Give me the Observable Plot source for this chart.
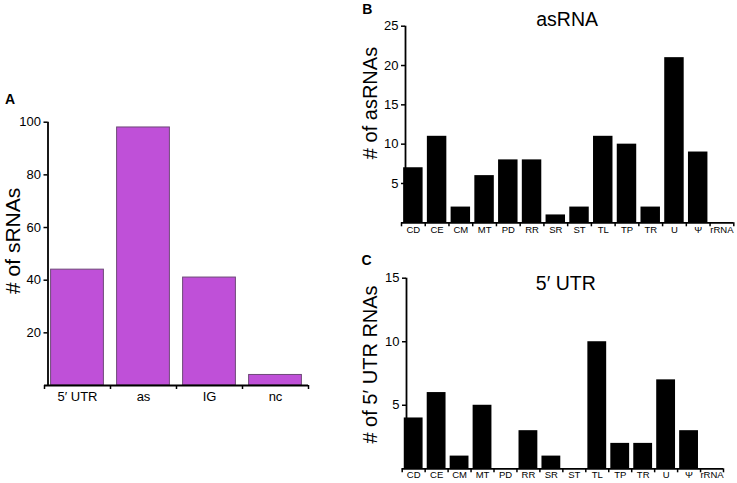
<!DOCTYPE html>
<html><head><meta charset="utf-8">
<script src="https://cdn.jsdelivr.net/npm/d3@7"></script>
<script src="https://cdn.jsdelivr.net/npm/@observablehq/plot@0.6"></script>
<style>
html,body{margin:0;padding:0;background:#fff;}
#wrap{position:relative;width:737px;height:483px;overflow:hidden;}
#wrap svg{position:absolute;overflow:visible;}
</style></head><body><div id="wrap"></div>
<script>
// ---- data ----
const srnaTypes = ["5′ UTR", "as", "IG", "nc"];
const srnaCounts = [44, 98, 41, 4];
const funcCategories = ["CD","CE","CM","MT","PD","RR","SR","ST","TL","TP","TR","U","Ψ","rRNA"];
const asRnaCounts = [7, 11, 2, 6, 8, 8, 1, 2, 11, 10, 2, 21, 9, 0];
const utrCounts   = [4, 6, 1, 5, 0, 3, 1, 0, 10, 2, 2, 7, 3, 0];
const yTicksA = [20, 40, 60, 80, 100];
const yTicksB = [5, 10, 15, 20, 25];
const yTicksC = [5, 10, 15];

const FONT = '"Liberation Sans", Arial, Helvetica, sans-serif';
const wrap = document.getElementById("wrap");

function makePanel(o) {
  const n = o.cats.length;
  const idx = d3.range(n);
  const marks = [
    Plot.rectY(idx, {x1: i => i + o.pad, x2: i => i + 1 - o.pad, y: i => o.vals[i],
      fill: o.fill, stroke: o.stroke, strokeWidth: o.strokeWidth || 0}),
    Plot.ruleY([0], {stroke: "#000", strokeWidth: 1.8}),
    Plot.ruleX([0], {dx: o.axisOff, stroke: "#000", strokeWidth: 1.8}),
    Plot.axisY({ticks: o.yTicks, tickSize: 4, tickPadding: 3, dx: o.axisOff, fontSize: 13,
      strokeWidth: 1.5, label: null}),
    Plot.axisX({ticks: d3.range(n + 1), tickSize: 4, tickFormat: () => "", strokeWidth: 1.5, label: null}),
    Plot.axisX({ticks: idx.map(i => i + 0.5), tickSize: 0, tickPadding: o.xPad,
      tickFormat: v => o.cats[Math.floor(v)], fontSize: o.xFont, label: null}),
    Plot.text([o.ylabel], {text: d => d, frameAnchor: "left", rotate: -90, dx: o.ylDx, dy: o.ylDy,
      fontSize: o.ylSize, fill: "#000", textAnchor: "middle", lineAnchor: "middle"}),
    Plot.text([o.letter], {text: d => d, frameAnchor: "top-left", dx: o.lDx, dy: o.lDy,
      fontSize: 14, fontWeight: "bold", fill: "#000", textAnchor: "middle", lineAnchor: "middle"})
  ];
  if (o.title) marks.push(Plot.text([o.title], {text: d => d, frameAnchor: "top", dx: o.tDx, dy: o.tDy,
      fontSize: 19.5, fill: "#000", textAnchor: "middle", lineAnchor: "middle"}));
  const svg = Plot.plot({
    width: o.width, height: o.height,
    marginLeft: o.ml, marginRight: o.mr, marginTop: o.mt, marginBottom: o.mb,
    style: {fontFamily: FONT, background: "transparent", overflow: "visible", color: "#000"},
    x: {domain: [0, n], axis: null},
    y: {domain: [0, o.yMax], axis: null},
    marks
  });
  svg.style.left = o.left + "px";
  svg.style.top = o.top + "px";
  wrap.appendChild(svg);
}

makePanel({cats: srnaTypes, vals: srnaCounts, yMax: 100, yTicks: yTicksA,
  fill: "#bf50d8", stroke: "#6e4a78", strokeWidth: 1, pad: 0.1, axisOff: 3.5,
  left: 0, top: 0, width: 330, height: 483, ml: 44, mr: 22, mt: 121.7, mb: 98,
  xPad: 6.5, xFont: 13, ylabel: "# of sRNAs", ylSize: 21, ylDx: -31, ylDy: -13,
  letter: "A", lDx: -34.5, lDy: -22.7});

makePanel({cats: funcCategories, vals: asRnaCounts, yMax: 25, yTicks: yTicksB,
  fill: "#000", pad: 0.09, axisOff: 4,
  left: 340, top: 0, width: 397, height: 240, ml: 61, mr: 3.7, mt: 25.7, mb: 17.7,
  xPad: 3, xFont: 9.5, ylabel: "# of asRNAs", ylSize: 20, ylDx: -31, ylDy: -21.5,
  letter: "B", lDx: -34.3, lDy: -16.7, title: "asRNA", tDx: -0.5, tDy: -6});

makePanel({cats: funcCategories, vals: utrCounts, yMax: 15, yTicks: yTicksC,
  fill: "#000", pad: 0.09, axisOff: 4.3,
  left: 340, top: 240, width: 397, height: 243, ml: 61.7, mr: 14, mt: 37.7, mb: 14.7,
  xPad: 2.5, xFont: 9.5, ylabel: "# of 5′ UTR RNAs", ylSize: 20, ylDx: -31.7, ylDy: -9,
  letter: "C", lDx: -35.7, lDy: -17.2, title: "5′ UTR", tDx: 3, tDy: 5.3});
</script></body></html>
